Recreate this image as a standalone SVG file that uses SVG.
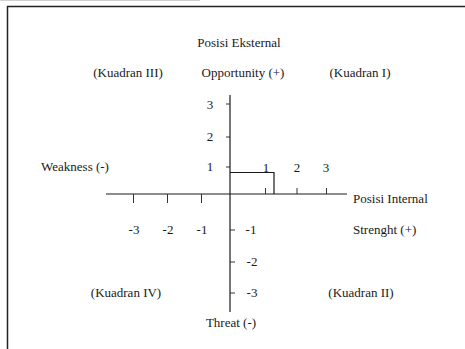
<svg xmlns="http://www.w3.org/2000/svg" width="465" height="349" viewBox="0 0 465 349">
  <style>
    text { font-family: "Liberation Serif", "Times New Roman", serif; font-size: 13px; fill: #1a1a1a; }
    .mid { text-anchor: middle; }
    .axis { stroke: #1a1a1a; stroke-width: 1.2; fill: none; }
    .tick { stroke: #333; stroke-width: 1; fill: none; }
    .frame { stroke: #222; stroke-width: 1.5; fill: none; }
  </style>
  <rect width="465" height="349" fill="#ffffff"/>

  <!-- faint rule along the upper edge -->
  <line x1="0" y1="0.5" x2="200" y2="0.5" stroke="#d0d0d0" stroke-width="1"/>

  <!-- frame -->
  <path class="frame" d="M7.5 349 V6.5 H465"/>

  <g id="axes">
    <line class="axis" x1="230" y1="95" x2="230" y2="312"/>
    <line class="axis" x1="106" y1="194" x2="347" y2="194"/>
    <!-- y ticks (positive, left side) -->
    <line class="tick" x1="226" y1="104" x2="230" y2="104"/>
    <line class="tick" x1="226" y1="137" x2="230" y2="137"/>
    <line class="tick" x1="226" y1="167" x2="230" y2="167"/>
    <!-- y ticks (negative, right side) -->
    <line class="tick" x1="230" y1="230" x2="235" y2="230"/>
    <line class="tick" x1="230" y1="262" x2="235" y2="262"/>
    <line class="tick" x1="230" y1="293" x2="235" y2="293"/>
    <!-- x ticks (negative, below) -->
    <line class="tick" x1="133.5" y1="194" x2="133.5" y2="203"/>
    <line class="tick" x1="167.5" y1="194" x2="167.5" y2="203"/>
    <line class="tick" x1="201.5" y1="194" x2="201.5" y2="203"/>
    <!-- x ticks (positive, above) -->
    <line class="tick" x1="265.5" y1="188" x2="265.5" y2="194"/>
    <line class="tick" x1="297" y1="188" x2="297" y2="194"/>
    <line class="tick" x1="326.5" y1="188" x2="326.5" y2="194"/>
  </g>

  <g id="position-box">
    <path class="axis" d="M230 172.5 H274 V194"/>
  </g>

  <g id="axis-labels">
    <text x="210" y="109" class="mid">3</text>
    <text x="210" y="141" class="mid">2</text>
    <text x="210" y="171" class="mid">1</text>
    <text x="266" y="172" class="mid">1</text>
    <text x="297" y="172" class="mid">2</text>
    <text x="326" y="172" class="mid">3</text>
    <text x="134" y="234" class="mid">-3</text>
    <text x="168" y="234" class="mid">-2</text>
    <text x="202" y="234" class="mid">-1</text>
    <text x="251" y="234" class="mid">-1</text>
    <text x="252" y="266" class="mid">-2</text>
    <text x="252" y="297" class="mid">-3</text>
  </g>

  <g id="titles">
    <text x="239" y="47" class="mid">Posisi Eksternal</text>
    <text x="128" y="77" class="mid">(Kuadran III)</text>
    <text x="243" y="77" class="mid">Opportunity (+)</text>
    <text x="360" y="77" class="mid">(Kuadran I)</text>
    <text x="75" y="171" class="mid">Weakness (-)</text>
    <text x="353" y="203">Posisi Internal</text>
    <text x="353" y="234">Strenght (+)</text>
    <text x="126" y="297" class="mid">(Kuadran IV)</text>
    <text x="361" y="297" class="mid">(Kuadran II)</text>
    <text x="231" y="327" class="mid">Threat (-)</text>
  </g>
</svg>
